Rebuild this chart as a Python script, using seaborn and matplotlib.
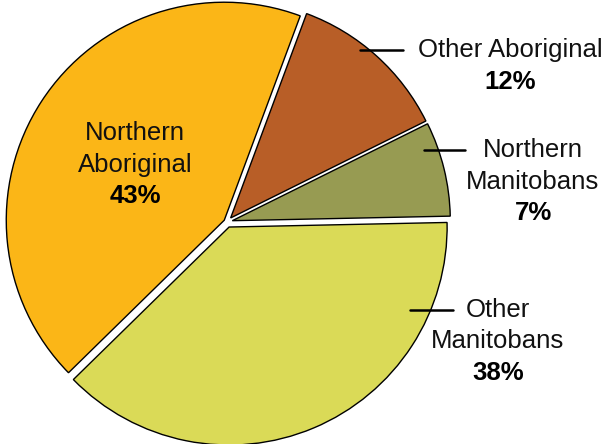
import matplotlib
matplotlib.use("Agg")
import matplotlib.pyplot as plt
import seaborn as sns

sns.set_theme(style="white")
plt.rcParams['font.family'] = ['Liberation Sans', 'DejaVu Sans']

# Data (counter-clockwise order starting near 0 degrees)
categories = ["Northern Manitobans", "Other Aboriginal", "Northern Aboriginal", "Other Manitobans"]
shares = [7, 12, 43, 38]
colors = ["#979B52", "#B85E27", "#FBB617", "#DADA57"]
name_lines = [["Northern", "Manitobans"], ["Other Aboriginal"], ["Northern", "Aboriginal"], ["Other", "Manitobans"]]

W, H = 607, 444
fig = plt.figure(figsize=(W / 100, H / 100), dpi=100)
ax = fig.add_axes([0, 0, 1, 1])

cx, cy, R = 227, 222, 218  # pixel centre and radius


def px(x, y):
    return ((x - cx) / R, (cy - y) / R)


ax.pie(shares, colors=colors, startangle=1.2, counterclock=True,
       explode=[0.025, 0.025, 0.015, 0.025], radius=1.0,
       wedgeprops=dict(edgecolor="black", linewidth=1.0))

ax.set_xlim(-cx / R, (W - cx) / R)
ax.set_ylim(-(H - cy) / R, cy / R)
ax.set_aspect("equal")
ax.axis("off")

fs = 18.5
# label positions (pixel coords) for first name line; leader line start/end
label_pos = {
    "Northern Manitobans": (533, 150),
    "Other Aboriginal": (510, 50),
    "Northern Aboriginal": (135, 133),
    "Other Manitobans": (498, 310),
}
leaders = {
    "Northern Manitobans": ((424, 150), (465, 150)),
    "Other Aboriginal": ((360, 50), (403, 50)),
    "Other Manitobans": ((410, 310), (453, 310)),
}
dy = 31.5
for cat, val, lines in zip(categories, shares, name_lines):
    x0, y0 = label_pos[cat]
    for i, ln in enumerate(lines):
        ax.text(*px(x0, y0 + i * dy), ln, ha="center", va="center",
                fontsize=fs, fontweight="normal", color="#111111")
    ax.text(*px(x0, y0 + len(lines) * dy), f"{val}%", ha="center", va="center",
            fontsize=fs, fontweight="bold", color="black")
    if cat in leaders:
        (a, b), (c, d) = leaders[cat]
        p1, p2 = px(a, b), px(c, d)
        ax.plot([p1[0], p2[0]], [p1[1], p2[1]], color="black", linewidth=1.8)

fig.savefig("out.png", dpi=100)
